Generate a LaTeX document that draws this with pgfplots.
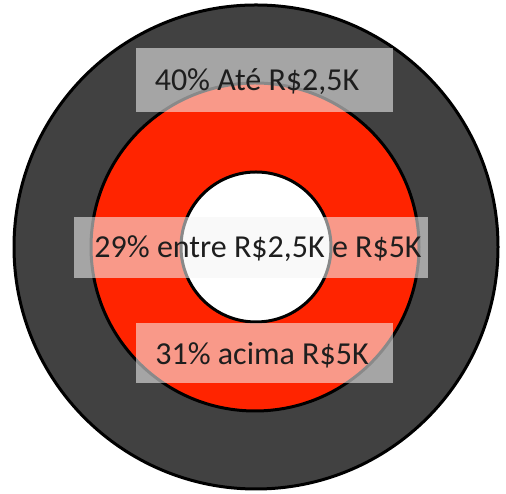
\documentclass[border=0pt]{standalone}
\usepackage{pgfplots}
\pgfplotsset{compat=1.18}
\usepackage{fontspec}
\setmainfont{Carlito}
\definecolor{ringdark}{HTML}{414141}
\definecolor{ringred}{HTML}{FF2400}
\definecolor{txt}{HTML}{1E1E1E}
\begin{document}
\begin{tikzpicture}
\begin{axis}[
  x=1pt, y=1pt,
  xmin=0, xmax=506, ymin=0, ymax=494,
  axis line style={draw=none},
  ticks=none,
  clip=false,
]
% outer ring (dark)
\addplot[only marks, mark=*, mark size=242pt,
  mark options={fill=ringdark, draw=black, line width=3pt}] coordinates {(256,247)};
% middle ring (red)
\addplot[only marks, mark=*, mark size=164pt,
  mark options={fill=ringred, draw=black, line width=3pt}] coordinates {(255,247)};
% inner circle (white)
\addplot[only marks, mark=*, mark size=75pt,
  mark options={fill=white, draw=black, line width=3pt}] coordinates {(256,247)};

\coordinate (b1) at (axis cs:264.5,413.5);
\coordinate (b2) at (axis cs:251,246.5);
\coordinate (b3) at (axis cs:264.5,141);
\coordinate (t1) at (axis cs:257,412);
\coordinate (t2) at (axis cs:258,245);
\coordinate (t3) at (axis cs:262,139);
\end{axis}
% label boxes
\node[fill=white!96!black, fill opacity=0.56, minimum width=257pt, minimum height=64pt, inner sep=0pt] at (b1) {};
\node[fill=white!96!black, fill opacity=0.56, minimum width=354pt, minimum height=61pt, inner sep=0pt] at (b2) {};
\node[fill=white!96!black, fill opacity=0.56, minimum width=257pt, minimum height=60pt, inner sep=0pt] at (b3) {};
\node[text=txt, font=\fontsize{32}{38}\selectfont, inner sep=0pt] at (t1) {40\% Até R\$2,5K};
\node[text=txt, font=\fontsize{32}{38}\selectfont, inner sep=0pt] at (t2) {29\% entre R\$2,5K e R\$5K};
\node[text=txt, font=\fontsize{32}{38}\selectfont, inner sep=0pt] at (t3) {31\% acima R\$5K};
\end{tikzpicture}
\end{document}
